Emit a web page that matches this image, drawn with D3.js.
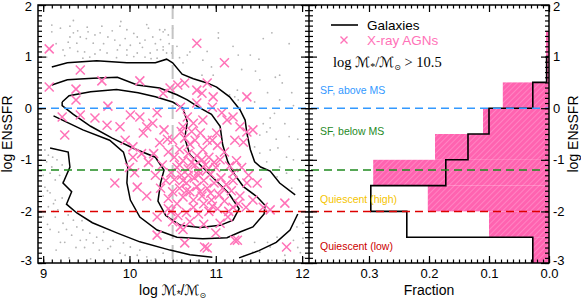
<!DOCTYPE html>
<html>
<head>
<meta charset="utf-8">
<script src="https://cdn.jsdelivr.net/npm/d3@7"></script>
<style>
body { margin: 0; background: #fff; }
svg { font-family: "Liberation Sans", Arial, sans-serif; }
.tick text { font-size: 13px; fill: #000; }
.tick line { stroke: #000; stroke-width: 1.2; }
</style>
</head>
<body>
<div id="chart"></div>
<script>
const width = 581
const height = 300

// --- data ---
const massTicks = [9, 10, 11, 12]
const ssfrTicks = [2, 1, 0, -1, -2, -3]
const fracTicks = [0.3, 0.2, 0.1, 0.0]

// histogram bins in log ENsSFR, fractions per bin
const binEdges = [-3, -2.5, -2, -1.5, -1, -0.5, 0, 0.5, 1, 1.5]
const galaxyFrac = [0.027, 0.237, 0.297, 0.172, 0.135, 0.100, 0.027, 0.004, 0]
const agnFrac = [0.027, 0.100, 0.202, 0.293, 0.190, 0.110, 0.077, 0.005, 0.005]

// class boundaries (horizontal dashed lines)
const boundaries = [
    {y: 0, color: "#3399ff"},
    {y: -1.2, color: "#1f8a1f"},
    {y: -2.0, color: "#dd0000"}
]
const massCut = 10.5

const regionLabels = [
    {text: "SF, above MS", y: 0.35, color: "#3399ff"},
    {text: "SF, below MS", y: -0.45, color: "#1f8a1f"},
    {text: "Quiescent (high)", y: -1.76, color: "#f5c400"},
    {text: "Quiescent (low)", y: -2.68, color: "#cc0000"}
]

// galaxy density contours (mass, ssfr)
const contourOuterTop = [[9.10,0.80],[9.28,0.88],[9.62,0.92],[9.97,0.88],[10.30,0.88],[10.43,0.95],[10.50,0.88],[10.61,0.66],[10.74,0.57],[10.90,0.49],[11.01,0.41],[11.16,0.22],[11.28,-0.03],[11.34,-0.23],[11.36,-0.48],[11.40,-0.80],[11.45,-1.04],[11.52,-1.14],[11.63,-1.22],[11.74,-1.45],[11.92,-1.68]]
const contourOuterRight = [[11.95,-2.05],[11.86,-2.36],[11.70,-2.60],[11.50,-2.76],[11.27,-2.90]]
const contourOuterLow = [[9.08,-0.77],[9.29,-0.85],[9.31,-1.14],[9.23,-1.45],[9.33,-1.62],[9.27,-1.86],[9.39,-2.03],[9.57,-2.22],[9.86,-2.42],[10.12,-2.59],[10.47,-2.75],[10.70,-2.84],[10.96,-2.89]]
const contourMiddle = [[9.10,0.45],[9.28,0.55],[9.58,0.58],[9.86,0.60],[10.09,0.45],[10.35,0.39],[10.55,0.26],[10.67,0.16],[10.80,0.02],[10.95,-0.12],[11.05,-0.35],[11.08,-0.71],[11.14,-1.04],[11.22,-1.29],[11.32,-1.52],[11.48,-1.72],[11.57,-1.88],[11.56,-2.05],[11.43,-2.30],[11.28,-2.40],[11.13,-2.51],[10.85,-2.53],[10.55,-2.50],[10.32,-2.36],[10.12,-2.11],[10.01,-1.78],[9.97,-1.45],[9.98,-1.14],[9.93,-0.85],[9.77,-0.62],[9.46,-0.42],[9.12,-0.15]]
const contourInner = [[9.22,0.12],[9.30,0.24],[9.55,0.32],[9.85,0.36],[10.10,0.30],[10.30,0.22],[10.50,0.12],[10.62,0.00],[10.67,-0.27],[10.64,-0.58],[10.70,-0.90],[10.85,-1.15],[11.00,-1.40],[11.15,-1.65],[11.27,-1.95],[11.20,-2.17],[11.05,-2.27],[10.82,-2.31],[10.59,-2.27],[10.42,-2.08],[10.33,-1.80],[10.36,-1.45],[10.40,-1.20],[10.30,-0.95],[10.05,-0.78],[9.80,-0.58],[9.55,-0.35],[9.35,-0.12],[9.22,0.05],[9.22,0.12]]
const contours = [contourOuterTop, contourOuterRight, contourOuterLow, contourMiddle, contourInner]

// galaxies outside the outer contour (mass, ssfr)
const galaxyMass = [9.10,9.31,9.51,9.68,9.89,9.97,9.10,9.35,9.52,9.31,9.43,9.66,9.75,9.83,10.09,10.18,10.27,10.39,9.29,9.39,9.58,9.89,10.01,10.12,9.23,9.31,9.48,9.66,9.74,9.86,9.97,10.09,10.24,10.32,10.39,10.43,9.04,9.46,9.54,9.97,10.18,10.32,
    10.35,10.41,10.36,10.39,10.49,10.70,10.67,10.85,10.62,11.03,11.03,11.65,11.26,11.40,11.51,11.69,11.74,11.77,10.97,10.84,11.25,11.16,11.22,10.55,10.58,10.95,11.46,11.88,
    11.26,11.45,11.74,11.63,11.63,11.59,11.51,11.45,11.51,11.63,11.72,11.82,11.59,11.74,11.82,11.71,11.97,11.90,11.85,11.55,11.68,
    9.02,9.06,9.11,9.04,9.16,9.10,9.22,9.08,9.19,9.14,9.23,9.02,9.08,9.14,9.22,9.06,9.17,9.14,9.29,9.23,9.35,9.39,9.46,9.33,9.54,9.62,9.69,9.58,9.81,9.93,10.01,10.12,9.89,10.20,10.09,10.39,9.43,9.27,9.12,9.00,9.05,9.20,9.48,9.75,10.30,10.55,10.78,
    11.71,11.63,11.51,11.90,12.01,11.94,11.43,11.32,12.01,11.78,11.60,11.98,11.40,
    9.20,9.40,9.60,9.80,10.05,10.22,10.45,9.15,9.50,9.70,9.95,10.15,10.30,9.25,9.40,9.60,9.85,10.05,10.25,10.46,10.50,10.20,9.90,9.35,
    11.55,11.85,11.30,11.60,11.90,11.80,11.95,11.70,12.00,11.88,11.50,11.20,10.90,
    9.00,9.05,9.12,9.00,9.08,9.18,9.25,9.38,9.50,9.65,9.78,9.95,9.30,9.55,9.15,10.25,10.60,9.70,9.45,
    11.45,11.80,11.95,11.65,12.02,11.35]
const galaxySsfr = [1.61,1.59,1.57,1.59,1.59,1.52,1.48,1.46,1.48,1.38,1.38,1.46,1.38,1.32,1.38,1.32,1.38,1.48,1.28,1.26,1.26,1.22,1.22,1.26,1.13,1.17,1.09,1.13,1.07,1.13,1.13,1.07,1.07,1.13,1.19,1.07,0.99,0.97,0.99,1.03,0.99,0.97,
    1.52,1.52,1.33,1.13,1.07,1.09,1.03,0.93,0.88,1.46,1.36,1.46,1.03,1.03,0.55,0.60,0.64,0.49,0.64,0.64,0.35,0.26,0.22,1.20,0.98,0.80,0.72,0.30,
    0.16,0.12,0.16,-0.19,-0.38,-0.46,-0.52,-0.75,-0.87,-0.81,-0.77,-0.95,-1.04,-1.14,-1.26,-1.33,-1.39,-1.00,-0.55,-0.30,-0.10,
    -0.81,-0.91,-0.95,-1.04,-1.00,-1.14,-1.10,-1.26,-1.30,-1.39,-1.43,-1.53,-1.64,-1.78,-1.74,-1.91,-1.97,-2.11,-2.07,-2.23,-2.17,-2.30,-2.36,-2.46,-2.42,-2.50,-2.56,-2.61,-2.56,-2.61,-2.69,-2.75,-2.81,-2.88,-2.85,-2.81,-2.56,-2.35,-2.00,-1.70,-2.25,-2.60,-2.70,-2.72,-2.92,-2.95,-2.96,
    -2.50,-2.69,-2.79,-2.56,-2.52,-2.30,-2.79,-2.87,-2.23,-2.95,-2.60,-2.80,-2.97,
    1.55,1.50,1.42,1.50,1.45,1.55,1.42,1.25,1.35,1.25,1.35,1.18,1.25,1.02,1.10,1.05,0.98,1.00,0.96,1.25,1.55,1.62,1.68,1.70,
    1.35,1.25,0.75,0.30,0.05,-0.30,-0.60,-0.60,-1.20,-1.55,0.95,1.20,1.10,
    -1.30,-1.60,-1.85,-2.10,-2.35,-2.40,-2.60,-2.70,-2.55,-2.75,-2.68,-2.85,-2.90,-2.92,-2.75,-2.95,-2.98,-2.40,-2.18,
    -2.60,-2.85,-2.70,-2.95,-2.90,-2.97]

// X-ray AGNs (mass, ssfr)
const agnMass = [9.07,9.43,11.10,10.78,9.07,9.38,9.38,9.68,10.12,9.75,11.36,
    9.22,9.25,9.43,9.60,9.74,9.89,10.01,10.12,10.20,10.32,10.27,10.39,10.47,10.56,10.64,10.78,10.84,10.90,10.97,10.78,10.96,10.59,10.67,10.62,10.74,10.85,11.07,11.13,11.20,11.28,11.36,11.43,11.22,11.32,11.01,10.82,10.90,10.50,10.35,10.04,10.16,
    10.04,9.83,10.09,10.32,10.59,10.64,10.87,10.32,11.05,11.14,11.25,11.20,11.43,11.55,11.63,11.80,11.82,11.48,11.36,11.20,10.90,11.22,
    10.45,10.52,10.58,10.62,10.55,10.48,10.60,10.68,10.72,10.78,10.85,10.92,10.88,10.80,10.75,10.66,10.58,10.50,10.45,10.55,10.62,10.70,10.78,10.86,10.94,11.00,11.05,11.10,11.02,10.96,10.70,10.64,10.76,10.82,10.90,10.98,11.06,11.12,11.18,11.04,10.95,10.86,10.74,10.66,10.56,10.48,10.80,10.92,11.02,11.10,11.28,11.35,11.30,11.24,11.16,11.38,10.42,10.38,10.44,10.60,10.72,10.68,10.62,10.74,10.84,10.98,10.84,10.66,10.52,10.96,11.15,10.70,10.86,10.62,10.50,11.00,10.45,10.58,10.80,10.90,11.08,11.20,11.26,10.76,10.68,10.94,
    10.06,10.22,10.28,10.30,10.14,9.95,10.40,10.36,10.20,10.00]
const agnSsfr = [1.15,0.74,0.88,1.26,0.41,0.37,0.16,0.53,0.53,0.04,0.22,
    -0.17,-0.52,-0.13,-0.19,-0.33,-0.36,-0.13,-0.17,-0.36,-0.09,-0.29,0.29,0.39,0.45,0.49,0.35,0.29,0.49,0.22,0.10,0.02,0.02,-0.17,-0.36,-0.29,-0.23,-0.09,-0.23,-0.17,-0.36,-0.46,-0.42,-0.62,-0.66,-0.48,-0.48,-0.62,-0.62,-0.67,-0.75,-0.48,
    -0.95,-1.45,-1.53,-2.11,-2.30,-2.61,-2.69,-2.46,-2.23,-2.11,-2.56,-1.92,-1.78,-1.92,-1.97,-1.84,-2.69,-1.45,-1.45,-1.26,-2.71,-2.56,
    -0.85,-0.95,-0.80,-1.02,-1.15,-1.25,-1.30,-1.18,-1.05,-0.92,-0.80,-0.95,-1.10,-1.22,-1.35,-1.45,-1.55,-1.62,-1.75,-1.85,-1.72,-1.62,-1.52,-1.40,-1.28,-1.15,-1.00,-0.85,-0.72,-0.62,-0.70,-0.58,-0.62,-1.62,-1.55,-1.45,-1.35,-1.48,-1.60,-1.68,-1.78,-1.85,-1.92,-2.02,-2.08,-2.00,-2.05,-2.00,-1.95,-1.80,-1.70,-1.92,-1.15,-1.02,-1.12,-1.30,-1.40,-1.10,-0.60,-0.45,-0.45,-0.88,-1.40,-1.78,-1.70,-1.05,-1.00,-1.60,-1.38,-1.90,-2.00,-2.20,-2.25,-2.35,-2.20,-2.42,-1.95,-1.10,-1.30,-1.20,-1.55,-1.40,-1.85,-1.10,-1.30,-1.65,
    -1.25,-1.05,-0.88,-1.30,-0.88,-0.62,-0.42,-1.55,-1.70,-1.15]

const pink = "#ff72b8"

// --- layout ---
const leftPanel = {x0: 38, x1: 309}
const rightPanel = {x0: 309, x1: 549}
const yTop = 5, yBottom = 263
const mathFont = "'DejaVu Sans', sans-serif"

const svg = d3.select("div#chart").append("svg").attr("width", width).attr("height", height)
svg.append("rect").attr("width", width).attr("height", height).attr("fill", "#fff")

const defs = svg.append("defs")
defs.append("clipPath").attr("id", "clipL").append("rect")
    .attr("x", leftPanel.x0).attr("y", yTop).attr("width", leftPanel.x1 - leftPanel.x0).attr("height", yBottom - yTop)
const pat = defs.append("pattern").attr("id", "hatch").attr("patternUnits", "userSpaceOnUse")
    .attr("width", 4).attr("height", 4).attr("patternTransform", "rotate(45)")
pat.append("rect").attr("width", 4).attr("height", 4).attr("fill", "#ff63b0")
pat.append("line").attr("x1", 0).attr("y1", 0).attr("x2", 0).attr("y2", 4)
    .attr("stroke", "#ff9bcf").attr("stroke-width", 1.2)

const x = d3.scaleLinear().domain([8.94, 12.08]).range([leftPanel.x0, leftPanel.x1])
const xf = d3.scaleLinear().domain([0.4, 0.0]).range([rightPanel.x0, rightPanel.x1])
const y = d3.scaleLinear().domain([-3, 2]).range([yBottom, yTop])

// --- left panel ---
const plotL = svg.append("g").attr("clip-path", "url(#clipL)")

plotL.selectAll("circle.gal").data(d3.range(galaxyMass.length)).enter()
    .append("circle").attr("class", "gal")
    .attr("cx", i => x(galaxyMass[i])).attr("cy", i => y(galaxySsfr[i]))
    .attr("r", 0.9).attr("fill", "#b4b4b4")

plotL.append("line")
    .attr("x1", x(massCut)).attr("x2", x(massCut)).attr("y1", yTop).attr("y2", yBottom)
    .attr("stroke", "#c4c4c4").attr("stroke-width", 2).attr("stroke-dasharray", "14,6")

const line = d3.line().x(d => x(d[0])).y(d => y(d[1])).curve(d3.curveLinear)
plotL.selectAll("path.contour").data(contours).enter()
    .append("path").attr("class", "contour")
    .attr("d", line).attr("fill", "none").attr("stroke", "#000").attr("stroke-width", 1.5)

const cross = 4.5
plotL.selectAll("path.agn").data(d3.range(agnMass.length)).enter()
    .append("path").attr("class", "agn")
    .attr("transform", i => `translate(${x(agnMass[i])},${y(agnSsfr[i])})`)
    .attr("d", `M${-cross},${-cross}L${cross},${cross}M${-cross},${cross}L${cross},${-cross}`)
    .attr("stroke", pink).attr("stroke-width", 1.5).attr("fill", "none")

// --- right panel: histograms ---
const plotR = svg.append("g")
plotR.selectAll("rect.agnbar").data(agnFrac).enter()
    .append("rect").attr("class", "agnbar")
    .attr("x", d => xf(d)).attr("width", d => xf(0) - xf(d))
    .attr("y", (d, i) => y(binEdges[i + 1])).attr("height", (d, i) => y(binEdges[i]) - y(binEdges[i + 1]))
    .attr("fill", "url(#hatch)")

// galaxy step outline
const steps = []
galaxyFrac.forEach((f, i) => {
    if (f === 0) return
    steps.push([f, binEdges[i]])
    steps.push([f, binEdges[i + 1]])
})
steps.push([0, steps[steps.length - 1][1]])
plotR.append("path")
    .attr("d", d3.line().x(d => xf(d[0])).y(d => y(d[1]))(steps))
    .attr("fill", "none").attr("stroke", "#000").attr("stroke-width", 1.6)

// dashed class boundaries across both panels
svg.selectAll("line.bound").data(boundaries).enter()
    .append("line").attr("class", "bound")
    .attr("x1", leftPanel.x0).attr("x2", rightPanel.x1)
    .attr("y1", d => y(d.y)).attr("y2", d => y(d.y))
    .attr("stroke", d => d.color).attr("stroke-width", 1.5).attr("stroke-dasharray", "8,5")

svg.selectAll("text.region").data(regionLabels).enter()
    .append("text").attr("class", "region")
    .attr("x", 320).attr("y", d => y(d.y)).attr("dy", "0.35em")
    .attr("font-size", 10.5).attr("fill", d => d.color).text(d => d.text)

// legend
const leg = svg.append("g")
leg.append("line").attr("x1", 331).attr("x2", 358).attr("y1", 25).attr("y2", 25).attr("stroke", "#000").attr("stroke-width", 1.6)
leg.append("text").attr("x", 367).attr("y", 25).attr("dy", "0.35em").attr("font-size", 13.5).text("Galaxies")
leg.append("path").attr("transform", "translate(344,40)")
    .attr("d", "M-3.5,-3.5L3.5,3.5M-3.5,3.5L3.5,-3.5").attr("stroke", pink).attr("stroke-width", 1.4)
leg.append("text").attr("x", 367).attr("y", 40).attr("dy", "0.35em").attr("font-size", 13.5).attr("fill", pink).text("X-ray AGNs")
const cut = leg.append("text").attr("x", 333).attr("y", 62).attr("dy", "0.35em")
    .attr("font-family", "'Liberation Serif', 'DejaVu Serif', serif").attr("font-size", 14.5)
cut.append("tspan").text("log ")
cut.append("tspan").attr("font-family", mathFont).attr("font-size", 14).text("ℳ")
cut.append("tspan").attr("font-size", 10).attr("dy", "3").text("*")
cut.append("tspan").attr("dy", "-3").text("/")
cut.append("tspan").attr("font-family", mathFont).attr("font-size", 14).text("ℳ")
cut.append("tspan").attr("font-family", mathFont).attr("font-size", 8).attr("dy", "3").text("⊙")
cut.append("tspan").attr("dy", "-3").text(" > 10.5")

// --- axes ---
function styleAxis(g) {
    g.select(".domain").remove()
}
const intFormat = d => String(d)
const axes = svg.append("g")
const minorMass = d3.range(9.0, 12.05, 0.1)
const minorFrac = d3.range(0, 0.4, 0.01)
const minorY = d3.range(-3, 2.01, 0.1)
// left panel x
axes.append("g").attr("transform", `translate(0,${yBottom})`)
    .call(d3.axisBottom(x).tickValues(massTicks).tickSize(-7).tickPadding(6).tickFormat(intFormat)).call(styleAxis)
axes.append("g").attr("transform", `translate(0,${yBottom})`)
    .call(d3.axisBottom(x).tickValues(minorMass).tickSize(-3.5).tickFormat("")).call(styleAxis)
axes.append("g").attr("transform", `translate(0,${yTop})`)
    .call(d3.axisTop(x).tickValues(massTicks).tickSize(-7).tickFormat("")).call(styleAxis)
axes.append("g").attr("transform", `translate(0,${yTop})`)
    .call(d3.axisTop(x).tickValues(minorMass).tickSize(-3.5).tickFormat("")).call(styleAxis)
// right panel x
axes.append("g").attr("transform", `translate(0,${yBottom})`)
    .call(d3.axisBottom(xf).tickValues(fracTicks).tickSize(-7).tickPadding(6).tickFormat(d3.format(".1f"))).call(styleAxis)
axes.append("g").attr("transform", `translate(0,${yBottom})`)
    .call(d3.axisBottom(xf).tickValues(minorFrac).tickSize(-3.5).tickFormat("")).call(styleAxis)
axes.append("g").attr("transform", `translate(0,${yTop})`)
    .call(d3.axisTop(xf).tickValues(fracTicks).tickSize(-7).tickFormat("")).call(styleAxis)
axes.append("g").attr("transform", `translate(0,${yTop})`)
    .call(d3.axisTop(xf).tickValues(minorFrac).tickSize(-3.5).tickFormat("")).call(styleAxis)
// y axes: left, shared middle (both sides), right
const yLabelsL = axes.append("g").attr("transform", `translate(${leftPanel.x0},0)`)
    .call(d3.axisLeft(y).tickValues(ssfrTicks).tickSize(-8).tickPadding(6).tickFormat(intFormat)).call(styleAxis)
axes.append("g").attr("transform", `translate(${leftPanel.x0},0)`)
    .call(d3.axisLeft(y).tickValues(minorY).tickSize(-4).tickFormat("")).call(styleAxis)
axes.append("g").attr("transform", `translate(${leftPanel.x1},0)`)
    .call(d3.axisLeft(y).tickValues(ssfrTicks).tickSize(8).tickFormat("")).call(styleAxis)
axes.append("g").attr("transform", `translate(${leftPanel.x1},0)`)
    .call(d3.axisLeft(y).tickValues(minorY).tickSize(4).tickFormat("")).call(styleAxis)
axes.append("g").attr("transform", `translate(${rightPanel.x0},0)`)
    .call(d3.axisRight(y).tickValues(ssfrTicks).tickSize(8).tickFormat("")).call(styleAxis)
axes.append("g").attr("transform", `translate(${rightPanel.x0},0)`)
    .call(d3.axisRight(y).tickValues(minorY).tickSize(4).tickFormat("")).call(styleAxis)
const yLabelsR = axes.append("g").attr("transform", `translate(${rightPanel.x1},0)`)
    .call(d3.axisRight(y).tickValues(ssfrTicks).tickSize(-8).tickPadding(4).tickFormat(intFormat)).call(styleAxis)
axes.append("g").attr("transform", `translate(${rightPanel.x1},0)`)
    .call(d3.axisRight(y).tickValues(minorY).tickSize(-4).tickFormat("")).call(styleAxis)
// end labels nudged inside, as in the picture
for (const g of [yLabelsL, yLabelsR]) {
    g.selectAll(".tick text").filter(d => d === 2).attr("dy", "0.45em")
    g.selectAll(".tick text").filter(d => d === -3).attr("dy", "0.15em")
}

// frames
svg.append("rect").attr("x", leftPanel.x0).attr("y", yTop).attr("width", rightPanel.x1 - leftPanel.x0).attr("height", yBottom - yTop)
    .attr("fill", "none").attr("stroke", "#000").attr("stroke-width", 1.5)
svg.append("line").attr("x1", leftPanel.x1).attr("x2", leftPanel.x1).attr("y1", yTop).attr("y2", yBottom)
    .attr("stroke", "#000").attr("stroke-width", 1.5)

// axis titles
svg.append("text").attr("transform", `translate(12,${(yTop + yBottom) / 2}) rotate(-90)`)
    .attr("text-anchor", "middle").attr("font-size", 14).text("log ENsSFR")
svg.append("text").attr("transform", `translate(578,${(yTop + yBottom) / 2}) rotate(-90)`)
    .attr("text-anchor", "middle").attr("font-size", 14).text("log ENsSFR")
svg.append("text").attr("x", xf(0.2)).attr("y", 295).attr("text-anchor", "middle").attr("font-size", 14).text("Fraction")
const xl = svg.append("text").attr("x", x(10.5)).attr("y", 295).attr("text-anchor", "middle").attr("font-size", 14)
xl.append("tspan").text("log ")
xl.append("tspan").attr("font-family", mathFont).attr("font-size", 14).text("ℳ")
xl.append("tspan").attr("font-size", 10).attr("dy", 3).text("*")
xl.append("tspan").attr("dy", -3).text("/")
xl.append("tspan").attr("font-family", mathFont).attr("font-size", 14).text("ℳ")
xl.append("tspan").attr("font-family", mathFont).attr("font-size", 8).attr("dy", 3).text("⊙")
</script>
</body>
</html>
